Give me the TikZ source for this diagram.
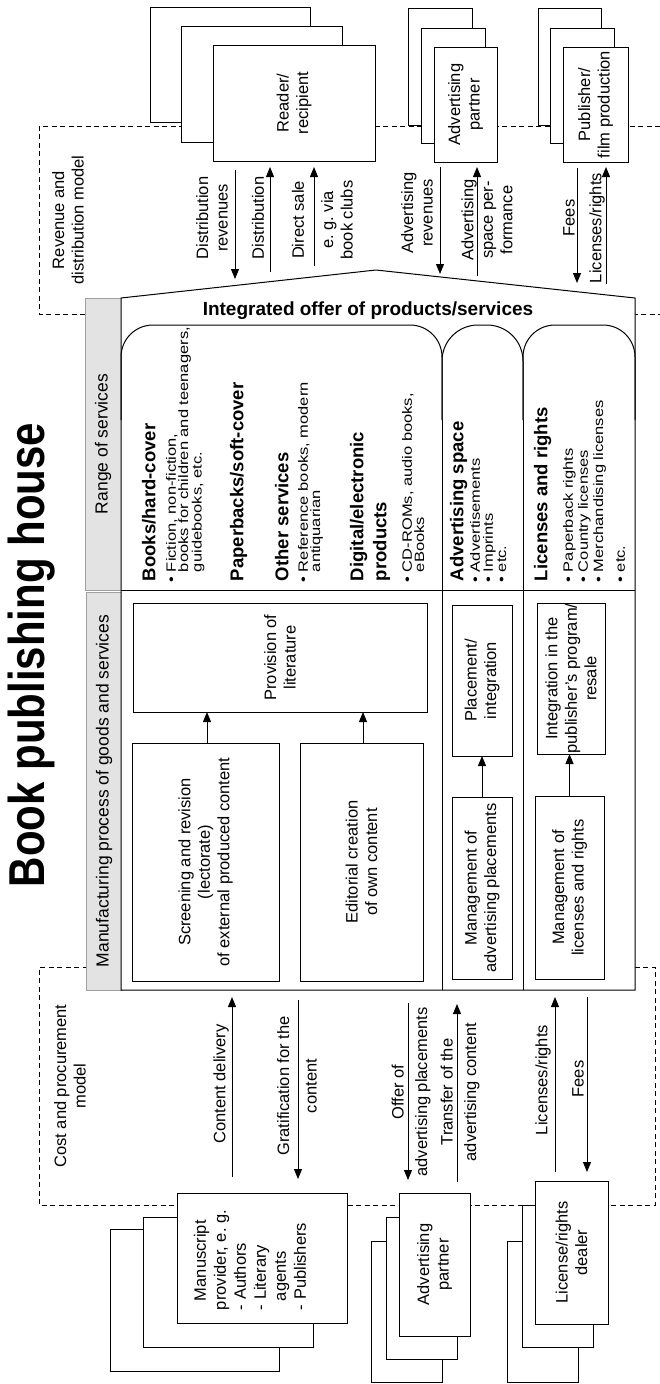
\documentclass[tikz,border=0pt]{standalone}
\usepackage{fontspec}
\setmainfont{Liberation Sans}
\usetikzlibrary{arrows.meta}
\frenchspacing
\newcommand\labfont{\fontsize{16.5}{19.5}\selectfont}
\newcommand\headfont{\fontsize{18.5}{23}\selectfont\bfseries}
\newcommand\bul{\makebox[10pt][l]{•}}
\newcommand\bulind{\hspace*{10pt}}

\begin{document}
\begin{tikzpicture}[x=1pt,y=-1pt,
  every node/.style={inner sep=0pt, outer sep=0pt},
  frame/.style={draw, line width=1pt},
  card/.style={rotate=90, draw, line width=1pt, fill=white, align=center, font=\labfont},
  lbl/.style={rotate=90, align=center, font=\labfont},
  head/.style={rotate=90, anchor=north west, align=left, font=\headfont},
  items/.style={rotate=90, anchor=north west, align=left, yscale=0.82, font=\fontsize{16.5}{#1}\selectfont},
  strip/.style={rotate=90, draw=gray!75, line width=1pt, fill=gray!22, font=\fontsize{17.5}{20}\selectfont},
  flow/.style={line width=1pt, -{Triangle[length=10pt,width=8pt]}},
  zone/.style={line width=0.8pt, dash pattern=on 5pt off 3.5pt},
]
\useasboundingbox (0,0) rectangle (660,1384);

% revenue and cost model zones
\draw[zone] (660,126) -- (39,126) -- (39,314) -- (660,314);
\draw[zone] (130,967) -- (39,967) -- (39,1205) -- (655,1205) -- (655,967) -- (600,967);
\node[lbl] (revmodel) at (68,220) {Revenue and\\distribution model};
\node[lbl] (costmodel) at (70,1086) {Cost and procurement\\model};

% title
\node[rotate=90, font=\fontsize{42}{44}\selectfont\bfseries, yscale=1.2] (title) at (32,655) {Book publishing house};

% side strips
\node[strip, minimum width=292pt, minimum height=36pt] (range) at (103,444) {Range of services};
\node[strip, minimum width=398pt, minimum height=36pt] (manuf) at (104,791) {Manufacturing process of goods and services};

% publishing house body
\draw[frame, fill=white] (121,990) -- (121,298) -- (376,270) -- (635,298) -- (635,990) -- cycle;
\node[font=\fontsize{19}{23}\selectfont\bfseries] (offer) at (368,311) {Integrated offer of products/services};
\draw[frame, rounded corners=32pt] (121,420) -- (121,325) -- (442,325) -- (442,420);
\draw[frame, rounded corners=36pt] (442,420) -- (442,325) -- (523,325) -- (523,420);
\draw[frame, rounded corners=32pt] (523,420) -- (523,325) -- (635,325) -- (635,420);
\draw[frame] (442,420) -- (442,990) (523,420) -- (523,990);
\draw[frame] (121,590) -- (635,590);

% range of services
\node[head] (books) at (142,581) {Books/hard-cover};
\node[items=13] (booksl) at (166,582) {\bul Fiction, non-fiction,\\\bulind books for children and teenagers,\\\bulind guidebooks, etc.};
\node[head] (paper) at (230,581) {Paperbacks/soft-cover};
\node[head] (other) at (275,581) {Other services};
\node[items=13] (otherl) at (298,582) {\bul Reference books, modern\\\bulind antiquarian};
\node[head] (digital) at (350,581) {Digital/electronic\\products};
\node[items=14] (digitall) at (402,582) {\bul CD-ROMs, audio books,\\\bulind eBooks};
\node[head] (adspace) at (450,581) {Advertising space};
\node[items=16] (adspacel) at (470,582) {\bul Advertisements\\\bul Imprints\\\bul etc.};
\node[head] (licrights) at (534,581) {Licenses and rights};
\node[items=18.5] (licrightsl) at (563,582) {\bul Paperback rights\\\bul Country licenses\\\bul Merchandising licenses\\[8pt]\bul etc.};

% manufacturing process
\node[card, minimum width=109pt, minimum height=294pt] (prov) at (280,657.5) {Provision of\\literature};
\node[card, minimum width=238pt, minimum height=147pt] (screen) at (205.5,862) {Screening and revision\\(lectorate)\\of external produced content};
\node[card, minimum width=238pt, minimum height=123pt] (edit) at (361.5,862) {Editorial creation\\of own content};
\node[card, minimum width=151pt, minimum height=60pt] (place) at (482,680.5) {Placement/\\integration};
\node[card, minimum width=182pt, minimum height=60pt] (madv) at (482,888) {Management of\\advertising placements};
\node[card, minimum width=151pt, minimum height=68pt] (integ) at (571,678.5) {Integration in the\\publisher's program/\\resale};
\node[card, minimum width=183pt, minimum height=69pt] (mlic) at (569.5,887.5) {Management of\\licenses and rights};
\draw[flow] ([xshift=1.5pt]screen.east) -- ([xshift=1.5pt]screen.east |- prov.west);
\draw[flow] ([xshift=1.5pt]edit.east) -- ([xshift=1.5pt]edit.east |- prov.west);
\draw[flow] (madv.east) -- (place.west);
\draw[flow] (mlic.east) -- (mlic.east |- integ.west);

% customers and partners on the revenue side
\node[card, minimum width=115pt, minimum height=160pt] (rb3) at (230,64.5) {};
\node[card, minimum width=116pt, minimum height=161pt] (rb2) at (261.5,84) {};
\node[card, minimum width=116pt, minimum height=162pt] (reader) at (294,103) {Reader/\\recipient};
\node[card, minimum width=117pt, minimum height=64pt] (ab3) at (440,66.5) {};
\node[card, minimum width=115pt, minimum height=64pt] (ab2) at (453,85.5) {};
\node[card, minimum width=115pt, minimum height=63pt] (advtop) at (465.5,104.5) {Advertising\\partner};
\node[card, minimum width=117pt, minimum height=63pt] (pb3) at (569.5,66.5) {};
\node[card, minimum width=115pt, minimum height=64pt] (pb2) at (582,85.5) {};
\node[card, minimum width=115pt, minimum height=65pt] (publisher) at (595.5,104.5) {Publisher/\\film production};

% suppliers on the cost side
\node[card, minimum width=142pt, minimum height=169pt] (mb3) at (194.5,1300) {};
\node[card, minimum width=130pt, minimum height=170pt] (mb2) at (228,1282) {};
\node[card, minimum width=130pt, minimum height=170pt] (manu) at (262,1258) {};
\node[lbl, align=left, font=\fontsize{16.5}{20}\selectfont] (manutext) at (250,1260) {\hspace*{9pt}Manuscript\\provider, e. g.\\- Authors\\- Literary\\\hspace*{9pt}agents\\- Publishers};
\node[card, minimum width=141pt, minimum height=71pt] (ap3) at (406.5,1311.5) {};
\node[card, minimum width=142pt, minimum height=71pt] (ap2) at (421.5,1288) {};
\node[card, minimum width=143pt, minimum height=71pt] (advbot) at (434.5,1264.5) {Advertising\\partner};
\node[card, minimum width=141pt, minimum height=71pt] (lb3) at (542.5,1311.5) {};
\node[card, minimum width=142pt, minimum height=71pt] (lb2) at (557.5,1276) {};
\node[card, minimum width=143pt, minimum height=73pt] (dealer) at (571.5,1252.5) {License/rights\\dealer};

% revenue flows
\coordinate (r1a) at (235,170);  \coordinate (r1b) at (235,279);
\coordinate (r2a) at (270,272);  \coordinate (r2b) at (270,167);
\coordinate (r3a) at (314,266);  \coordinate (r3b) at (314,167);
\coordinate (r4a) at (440,167);  \coordinate (r4b) at (440,274);
\coordinate (r5a) at (477,276);  \coordinate (r5b) at (477,167);
\coordinate (r6a) at (577,168);  \coordinate (r6b) at (577,283);
\coordinate (r7a) at (606,284);  \coordinate (r7b) at (606,167);
\draw[flow] (r1a) -- (r1b);
\draw[flow] (r2a) -- (r2b);
\draw[flow] (r3a) -- (r3b);
\draw[flow] (r4a) -- (r4b);
\draw[flow] (r5a) -- (r5b);
\draw[flow] (r6a) -- (r6b);
\draw[flow] (r7a) -- (r7b);
\node[lbl] (l1) at (212,218) {Distribution\\revenues};
\node[lbl] (l2) at (258,218) {Distribution};
\node[lbl] (l3) at (298,220) {Direct sale};
\node[lbl] (l3b) at (337,220) {e. g. via\\book clubs};
\node[lbl] (l4) at (417,213) {Advertising\\revenues};
\node[lbl] (l5) at (487,220) {Advertising\\space per-\\formance};
\node[lbl] (l6) at (569,218) {Fees};
\node[lbl] (l7) at (597,228) {Licenses/rights};

% cost flows
\coordinate (c1a) at (232,1177); \coordinate (c1b) at (232,997);
\coordinate (c2a) at (298,1000); \coordinate (c2b) at (298,1179);
\coordinate (c3a) at (408,1003); \coordinate (c3b) at (408,1180);
\coordinate (c4a) at (457,1182); \coordinate (c4b) at (457,1004);
\coordinate (c5a) at (555,1172); \coordinate (c5b) at (555,997);
\coordinate (c6a) at (587,997);  \coordinate (c6b) at (587,1172);
\draw[flow] (c1a) -- (c1b);
\draw[flow] (c2a) -- (c2b);
\draw[flow] (c3a) -- (c3b);
\draw[flow] (c4a) -- (c4b);
\draw[flow] (c5a) -- (c5b);
\draw[flow] (c6a) -- (c6b);
\node[lbl] (k1) at (221,1084) {Content delivery};
\node[lbl] (k2) at (297,1086) {Gratification for the\\[8pt]content};
\node[lbl] (k3) at (411,1092) {Offer of\\[4pt]advertising placements};
\node[lbl] (k4) at (460,1092) {Transfer of the\\[4pt]advertising content};
\node[lbl] (k5) at (543,1080) {Licenses/rights};
\node[lbl] (k6) at (578,1079) {Fees};

\end{tikzpicture}
\end{document}
